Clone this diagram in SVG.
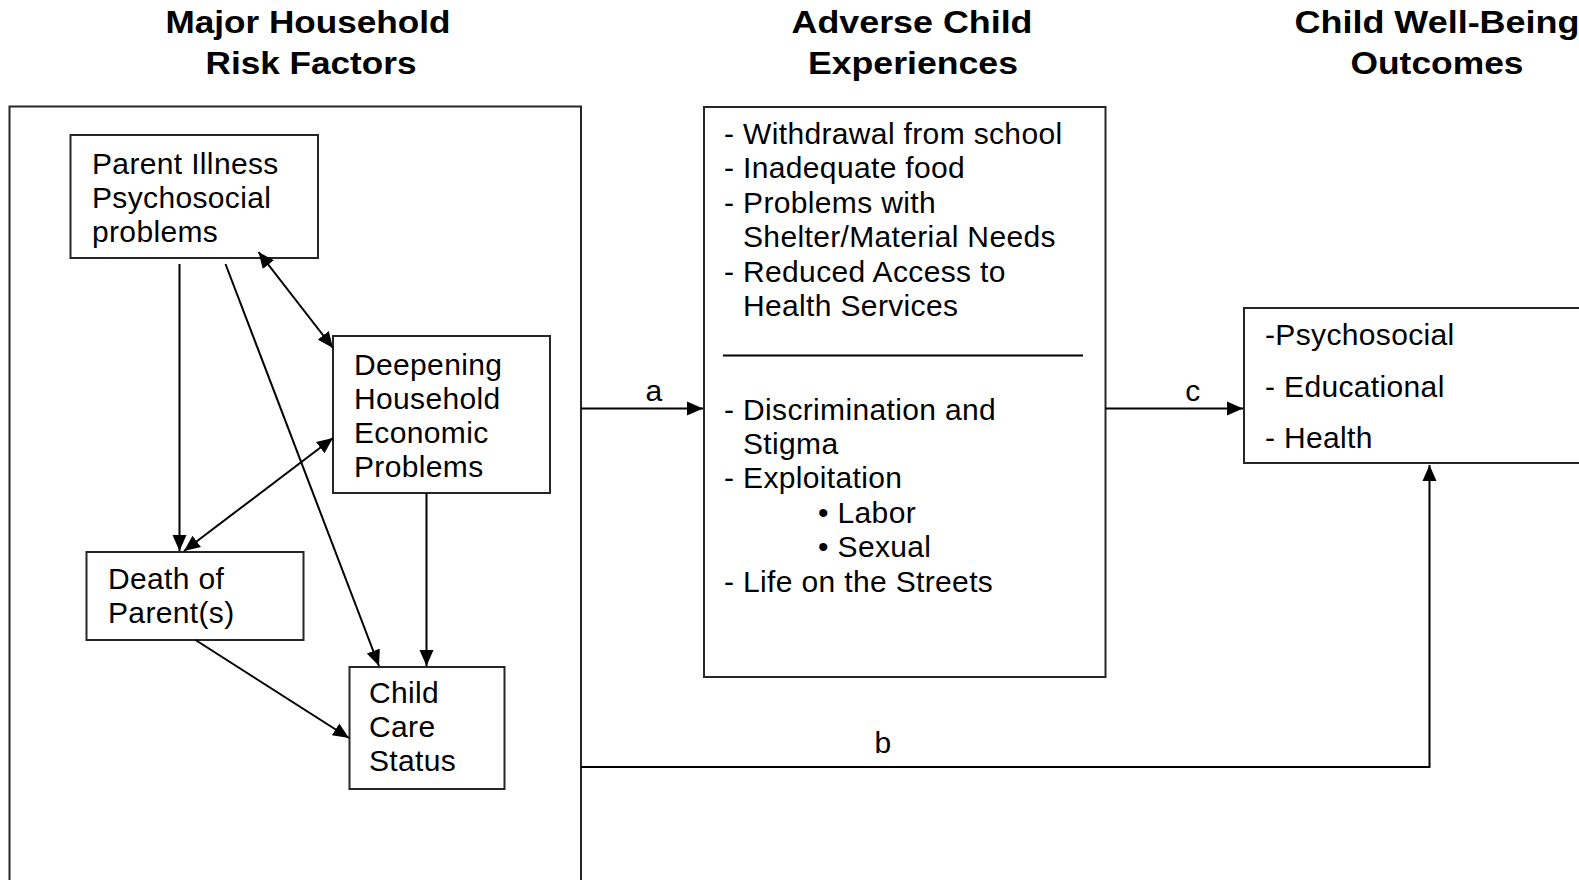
<svg xmlns="http://www.w3.org/2000/svg" width="1579" height="880" viewBox="0 0 1579 880">
<style>
.box{fill:#fff;stroke:#262626;stroke-width:2}
.t{font-family:"Liberation Sans",Arial,sans-serif;font-size:30px;letter-spacing:0.35px;fill:#000}
.h{font-family:"Liberation Sans",Arial,sans-serif;font-size:31px;font-weight:bold;fill:#000;text-anchor:middle}
.ln{fill:none;stroke:#000;stroke-width:2}
</style>
<defs>
<marker id="ah" markerUnits="userSpaceOnUse" markerWidth="17" markerHeight="15" refX="16" refY="7.5" orient="auto-start-reverse">
<path d="M0,0.5 L16,7.5 L0,14.5 z" fill="#000"/>
</marker>
</defs>
<rect width="1579" height="880" fill="#fff"/>
<g id="titles">
<text class="h" x="308" y="33" textLength="285" lengthAdjust="spacingAndGlyphs">Major Household</text>
<text class="h" x="311" y="74" textLength="211" lengthAdjust="spacingAndGlyphs">Risk Factors</text>
<text class="h" x="912" y="33" textLength="241" lengthAdjust="spacingAndGlyphs">Adverse Child</text>
<text class="h" x="913" y="74" textLength="210" lengthAdjust="spacingAndGlyphs">Experiences</text>
<text class="h" x="1437" y="33" textLength="285" lengthAdjust="spacingAndGlyphs">Child Well-Being</text>
<text class="h" x="1437" y="74" textLength="173" lengthAdjust="spacingAndGlyphs">Outcomes</text>
</g>
<g id="risk-factors">
<rect class="box" x="9.5" y="106.5" width="571.5" height="800"/>
</g>
<g id="parent-illness">
<rect class="box" x="70.5" y="135" width="247.5" height="123"/>
<text class="t" x="92" y="174">Parent Illness</text>
<text class="t" x="92" y="208">Psychosocial</text>
<text class="t" x="92" y="242">problems</text>
</g>
<g id="deepening">
<rect class="box" x="333" y="336" width="217" height="157"/>
<text class="t" x="354" y="375">Deepening</text>
<text class="t" x="354" y="409">Household</text>
<text class="t" x="354" y="443">Economic</text>
<text class="t" x="354" y="477">Problems</text>
</g>
<g id="death">
<rect class="box" x="86.5" y="552" width="217" height="88"/>
<text class="t" x="108" y="589">Death of</text>
<text class="t" x="108" y="623">Parent(s)</text>
</g>
<g id="child-care">
<rect class="box" x="349.5" y="667" width="155" height="122"/>
<text class="t" x="369" y="703">Child</text>
<text class="t" x="369" y="737">Care</text>
<text class="t" x="369" y="771">Status</text>
</g>
<g id="adverse">
<rect class="box" x="704" y="107" width="401.5" height="570"/>
<text class="t" x="724" y="144">- Withdrawal from school</text>
<text class="t" x="724" y="178.4">- Inadequate food</text>
<text class="t" x="724" y="212.8">- Problems with</text>
<text class="t" x="743" y="247.2">Shelter/Material Needs</text>
<text class="t" x="724" y="281.6">- Reduced Access to</text>
<text class="t" x="743" y="316">Health Services</text>
<line class="ln" x1="723" y1="355.5" x2="1083" y2="355.5"/>
<text class="t" x="724" y="419.5">- Discrimination and</text>
<text class="t" x="743" y="453.9">Stigma</text>
<text class="t" x="724" y="488.3">- Exploitation</text>
<text class="t" x="818" y="522.7">• Labor</text>
<text class="t" x="818" y="557.1">• Sexual</text>
<text class="t" x="724" y="591.5">- Life on the Streets</text>
</g>
<g id="outcomes">
<rect class="box" x="1244" y="308" width="345" height="155"/>
<text class="t" x="1265" y="345">-Psychosocial</text>
<text class="t" x="1265" y="397">- Educational</text>
<text class="t" x="1265" y="448">- Health</text>
</g>
<g id="connectors">
<line class="ln" x1="179.5" y1="264" x2="179.5" y2="551" marker-end="url(#ah)"/>
<line class="ln" x1="225.5" y1="264" x2="379" y2="666" marker-end="url(#ah)"/>
<line class="ln" x1="258.5" y1="252" x2="333" y2="348" marker-start="url(#ah)" marker-end="url(#ah)"/>
<line class="ln" x1="333" y1="438" x2="184" y2="551" marker-start="url(#ah)" marker-end="url(#ah)"/>
<line class="ln" x1="426.5" y1="493" x2="426.5" y2="666" marker-end="url(#ah)"/>
<line class="ln" x1="195.5" y1="640" x2="349" y2="738" marker-end="url(#ah)"/>
<line class="ln" x1="581" y1="408.5" x2="703" y2="408.5" marker-end="url(#ah)"/>
<line class="ln" x1="1105.5" y1="408.5" x2="1243" y2="408.5" marker-end="url(#ah)"/>
<polyline class="ln" points="581,767 1429.5,767 1429.5,465" marker-end="url(#ah)"/>
<text class="t" x="654" y="401" text-anchor="middle">a</text>
<text class="t" x="1193" y="401" text-anchor="middle">c</text>
<text class="t" x="883" y="753" text-anchor="middle">b</text>
</g>
</svg>
